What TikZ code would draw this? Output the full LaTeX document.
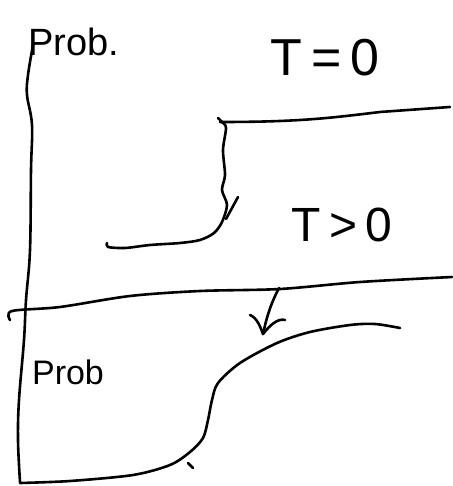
\documentclass[tikz,border=0pt]{standalone}
\usepackage{fontspec}
\setmainfont{Liberation Sans}
\begin{document}
\begin{tikzpicture}[x=1pt,y=-1pt,
  ink/.style={line width=2.6pt,line cap=round,line join=round,black},
  lbl/.style={inner sep=0pt,black}]
\useasboundingbox (0,0) rectangle (452,486);
% labels
\node[lbl,font=\fontsize{38}{42}\selectfont] (probtop) at (74,42) {Prob.};
\node[lbl,font=\fontsize{52}{56}\selectfont] (tzero) at (325,58) {T\,=\,0};
\node[lbl,font=\fontsize{48}{52}\selectfont] (tpos) at (342,225) {T\,>\,0};
\node[lbl,font=\fontsize{34}{38}\selectfont] (probbot) at (68,372) {Prob};
% vertical axis (continuous)
\draw[ink] plot[smooth,tension=0.6] coordinates {(33,45) (28,75) (27,95) (32,125) (31,170) (30,250) (26,300) (24,340) (19,400) (18,440) (20,482)};
% upper step curve
\draw[ink] plot[smooth,tension=0.5] coordinates {(218,118) (222,122) (226,128) (223,150) (225,175) (222,190) (227,205) (222,222) (214,233) (200,240) (180,243) (150,245) (125,248) (108,247) (107,243)};
\draw[ink] (220,122) .. controls (300,122) and (330,118) .. (380,112) -- (450,107);
\draw[ink] (238,197) -- (226,219);
% separator line
\draw[ink] plot[smooth,tension=0.5] coordinates {(10,320) (12,311) (60,307) (130,296) (200,291) (280,289) (360,282) (452,277)};
% lower curve
\draw[ink] plot[smooth,tension=0.5] coordinates {(20,483) (70,481) (133,475) (170,465) (190,452) (203,438) (208,420) (212,400) (218,383) (240,363) (277,343) (310,332) (350,325) (375,324) (400,328)};
\draw[ink] (188,463) -- (193,468);
% arrow (check-shaped)
\coordinate (atail) at (279,288);
\coordinate (ahead) at (263,334);
\draw[ink] (atail) .. controls (270,305) and (266,320) .. (ahead);
\draw[ink] (250,315) .. controls (257,318) and (260,326) .. (ahead) .. controls (270,325) and (278,318) .. (285,320);
\end{tikzpicture}
\end{document}
